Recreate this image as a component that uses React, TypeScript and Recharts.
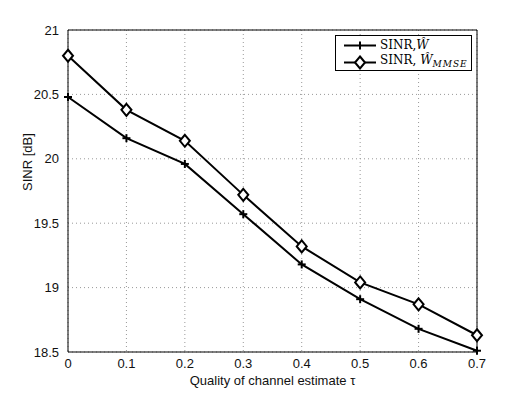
import React from 'react';
import {
  LineChart,
  Line,
  XAxis,
  YAxis,
  CartesianGrid,
  ReferenceLine,
} from 'recharts';

const tau = [0, 0.1, 0.2, 0.3, 0.4, 0.5, 0.6, 0.7];
const sinrW = [20.48, 20.16, 19.96, 19.57, 19.18, 18.91, 18.68, 18.51];
const sinrMmse = [20.8, 20.38, 20.14, 19.72, 19.32, 19.04, 18.87, 18.63];
const xTicks = [0, 0.1, 0.2, 0.3, 0.4, 0.5, 0.6, 0.7];
const yTicks = [18.5, 19, 19.5, 20, 20.5, 21];

const data = tau.map((t, i) => ({ tau: t, w: sinrW[i], mmse: sinrMmse[i] }));

const PlusDot = (props: any) => {
  const { cx, cy } = props;
  if (cx == null || cy == null) return null;
  return (
    <g stroke="#000" strokeWidth={2}>
      <line x1={cx - 4} y1={cy} x2={cx + 4} y2={cy} />
      <line x1={cx} y1={cy - 4} x2={cx} y2={cy + 4} />
    </g>
  );
};

const DiamondDot = (props: any) => {
  const { cx, cy } = props;
  if (cx == null || cy == null) return null;
  return (
    <path
      d={`M${cx},${cy - 6} L${cx + 5},${cy} L${cx},${cy + 6} L${cx - 5},${cy} Z`}
      fill="#fff"
      stroke="#000"
      strokeWidth={2}
    />
  );
};

const serif = '"DejaVu Serif", "Liberation Serif", serif';

const LegendBox = () => (
  <div
    style={{
      position: 'absolute',
      left: 335,
      top: 35,
      border: '1px solid #000',
      background: '#fff',
      width: 137,
      height: 36,
      boxSizing: 'border-box',
      fontFamily: serif,
      fontSize: 12,
      padding: '2px 0 0 6px',
      lineHeight: '15px',
    }}
  >
    <div style={{ display: 'flex', alignItems: 'center' }}>
      <svg width={36} height={15}>
        <line x1={2} y1={7.5} x2={34} y2={7.5} stroke="#000" strokeWidth={2} />
        <line x1={18} y1={3.5} x2={18} y2={11.5} stroke="#000" strokeWidth={2} />
      </svg>
      <span style={{ marginLeft: 2 }}>
        SINR,<i>Ŵ</i>
      </span>
    </div>
    <div style={{ display: 'flex', alignItems: 'center' }}>
      <svg width={36} height={15}>
        <line x1={2} y1={7.5} x2={34} y2={7.5} stroke="#000" strokeWidth={2} />
        <path d="M18,1.5 L23,7.5 L18,13.5 L13,7.5 Z" fill="#fff" stroke="#000" strokeWidth={2} />
      </svg>
      <span style={{ marginLeft: 2 }}>
        SINR, <i>Ŵ</i>
        <sub style={{ fontStyle: 'italic', fontSize: 9, letterSpacing: 1 }}>MMSE</sub>
      </span>
    </div>
  </div>
);

export default function App() {
  return (
    <div style={{ position: 'absolute', left: 0, top: 0, width: 526, height: 396, background: '#fff' }}>
      <LineChart
        width={526}
        height={396}
        data={data}
        margin={{ top: 30, right: 49, bottom: 0, left: 0 }}
        style={{ fontFamily: '"Liberation Sans", Arial, sans-serif' }}
      >
        <CartesianGrid stroke="#999" strokeDasharray="1 3" />
        <XAxis
          dataKey="tau"
          type="number"
          domain={[0, 0.7]}
          ticks={xTicks}
          tickFormatter={(v) => `${v}`}
          height={44}
          stroke="#000"
          tick={{ fill: '#111', fontSize: 13 }}
          tickLine={false}
          tickMargin={1}
          label={{ value: 'Quality of channel estimate τ', position: 'insideBottom', offset: 11, fill: '#111', fontSize: 13 }}
        />
        <YAxis
          type="number"
          domain={[18.5, 21]}
          ticks={yTicks}
          width={68}
          stroke="#000"
          tick={{ fill: '#111', fontSize: 13 }}
          tickLine={false}
          tickMargin={3}
          label={{ value: 'SINR [dB]', angle: -90, position: 'insideLeft', offset: 27, fill: '#111', fontSize: 13 }}
        />
        <ReferenceLine y={21} stroke="#000" />
        <ReferenceLine x={0.7} stroke="#000" />
        <Line
          dataKey="w"
          stroke="#000"
          strokeWidth={2}
          dot={<PlusDot />}
          activeDot={false}
          isAnimationActive={false}
        />
        <Line
          dataKey="mmse"
          stroke="#000"
          strokeWidth={2}
          dot={<DiamondDot />}
          activeDot={false}
          isAnimationActive={false}
        />
      </LineChart>
      <LegendBox />
    </div>
  );
}
